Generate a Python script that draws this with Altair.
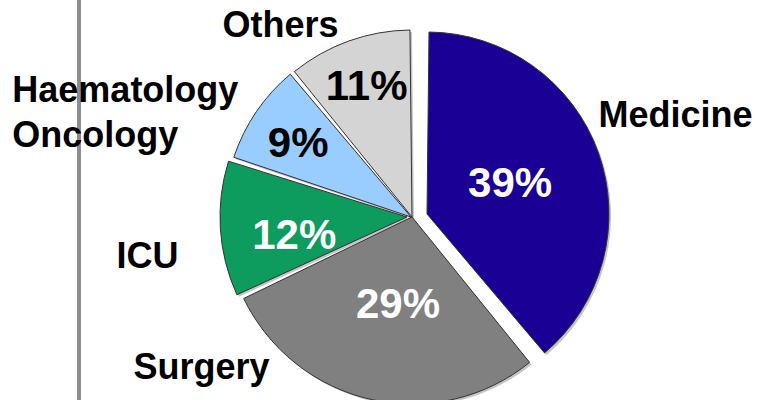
import math
import altair as alt
import pandas as pd

categories = ["Medicine", "Surgery", "ICU", "Haematology\nOncology", "Others"]
shares = [39, 29, 12, 9, 11]
colors = ["#1b0096", "#808080", "#0e9b5e", "#99ccff", "#d4d4d4"]
pct_colors = ["white", "white", "white", "black", "black"]

df = pd.DataFrame({"category": categories, "share": shares, "order": list(range(len(categories)))})

base = (
    alt.Chart(df)
    .transform_window(cum="sum(share)", sort=[alt.SortField("order")], frame=[None, 0])
    .transform_calculate(
        start="datum.cum - datum.share",
        mid="datum.cum - datum.share / 2",
        pct="datum.share + '%'",
    )
)

theta_scale = alt.Scale(domain=[0, 100], range=[0, 2 * math.pi])
color_scale = alt.Scale(domain=categories, range=colors)
R = 187
FONT = "Liberation Sans"

# explode offsets per slice (pixels) and radius
explode = {0: (15, -3), 1: (0, 0), 2: (-5, 0), 3: (-1, 0), 4: (0, 0)}
radii = {0: 182, 1: R, 2: R, 3: R, 4: R}


def slice_layer(i, shadow=False):
    dx, dy = explode[i]
    r = radii[i]
    if shadow:
        mark = dict(radius=r, padAngle=0.022, fill="#c4c4c4", xOffset=dx + 2, yOffset=dy + 2)
    else:
        mark = dict(radius=r, padAngle=0.022, stroke="#333333", strokeWidth=1, xOffset=dx, yOffset=dy)
    enc = dict(theta=alt.Theta("start:Q", scale=theta_scale), theta2="cum:Q")
    if not shadow:
        enc["color"] = alt.Color("category:N", scale=color_scale, legend=None)
    return base.transform_filter(alt.datum.order == i).mark_arc(**mark).encode(**enc)


# percent labels: (radius, dx, dy)
pct_pos = {0: (99, 5, 14), 1: (101, 8, 2), 2: (117, -1, 25), 3: (128, -8, 12), 4: (125, -3, 1)}
# category labels: (radius, dx, dy, align)
cat_pos = {
    0: (279, 1, 5, "center"),
    1: (204, -166, -37, "center"),
    2: (263, -2, 34, "center"),
    3: (395, -73, 107, "left"),
    4: (214, -59, 21, "center"),
}


def pct_layer(i):
    r, dx, dy = pct_pos[i]
    return base.transform_filter(alt.datum.order == i).mark_text(
        radius=r, dx=dx, dy=dy, font=FONT, fontWeight="bold", fontSize=42,
        fill=pct_colors[i], align="center", baseline="alphabetic",
    ).encode(theta=alt.Theta("mid:Q", scale=theta_scale), text="pct:N")


def cat_layer(i):
    r, dx, dy, al = cat_pos[i]
    return base.transform_filter(alt.datum.order == i).mark_text(
        radius=r, dx=dx, dy=dy, font=FONT, fontWeight="bold", fontSize=36,
        fill="black", align=al, baseline="alphabetic", lineBreak="\n", lineHeight=45,
    ).encode(theta=alt.Theta("mid:Q", scale=theta_scale), text="category:N")


divider = alt.Chart(df).mark_rule(color="#8c8c8c", strokeWidth=3).encode(
    x=alt.value(13), y=alt.value(-40), y2=alt.value(380)
)

layers = [divider]
layers += [slice_layer(i, shadow=True) for i in range(5)]
layers += [slice_layer(i) for i in range(5)]
layers += [cat_layer(i) for i in range(5)]
layers += [pct_layer(i) for i in range(5)]

chart = (
    alt.layer(*layers)
    .properties(
        width=692,
        height=366,
        autosize=alt.AutoSizeParams(type="none"),
        padding={"left": 66, "top": 34, "right": 0, "bottom": 0},
        background="white",
    )
    .configure_view(stroke=None)
)

chart.save("out.html", embed_options={"renderer": "svg", "actions": False})
